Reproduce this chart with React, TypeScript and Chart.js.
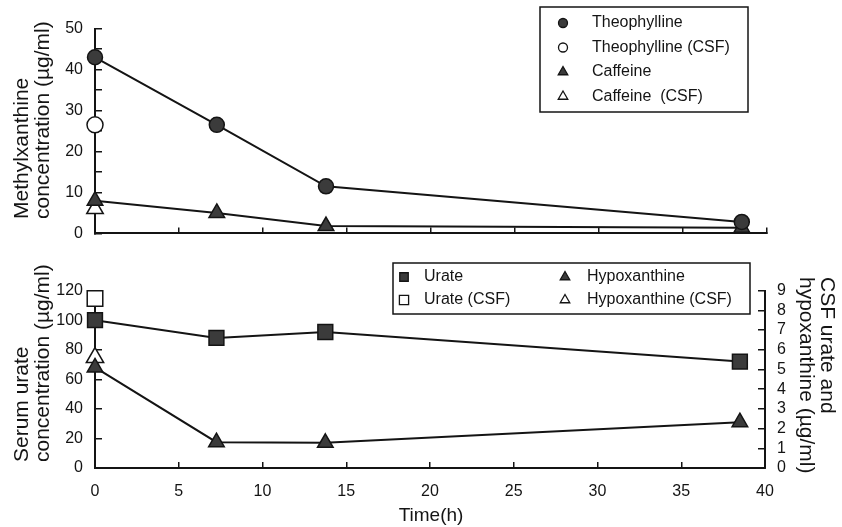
import React, { useEffect, useRef } from 'react';
import { Chart, registerables } from 'chart.js';
import { drawPoint } from 'chart.js/helpers';

Chart.register(...registerables);

const FONT = '"Liberation Sans", Arial, Helvetica, sans-serif';
const INK = '#141414';
const MARK = '#3b3b3b';
const PAPER = '#ffffff';

// sampling times after the dose (h)
const sampleHours = [0, 7.25, 13.75, 38.5];
const csfHours = [0];

// methylxanthines, serum and CSF (µg/ml)
const theophylline = [43, 26.5, 11.5, 2.8];
const caffeine = [8, 5, 1.8, 1.4];
const theophyllineCsf = [26.5];
const caffeineCsf = [6];

// serum urate / hypoxanthine (left axis) and CSF levels (right axis), µg/ml
const urate = [100, 88, 92, 72];
const hypoxanthine = [68, 17.5, 17, 31];
const urateCsf = [8.6];
const hypoxanthineCsf = [5.6];

// axis captions
const methylTitle = ['Methylxanthine', 'concentration (µg/ml)'];
const serumTitle = ['Serum urate', 'concentration (µg/ml)'];
const csfTitle = ['CSF urate and', 'hypoxanthine (µg/ml)'];
const timeTitle = ['Time(h)'];

const toPoints = (xs: number[], ys: number[]) => xs.map((x, i) => ({ x, y: ys[i] }));

type Caption = { lines: string[]; x: number; y: number; rotation: number; align: CanvasTextAlign; size: number; gap: number };

function captionsPlugin(items: Caption[]) {
  return {
    id: 'captions',
    afterDraw(chart: Chart) {
      const ctx = chart.ctx;
      for (const c of items) {
        ctx.save();
        ctx.translate(c.x, c.y);
        ctx.rotate(c.rotation);
        ctx.font = `${c.size}px ${FONT}`;
        ctx.fillStyle = INK;
        ctx.textAlign = c.align;
        ctx.textBaseline = 'middle';
        c.lines.forEach((t, i) => ctx.fillText(t, 0, i * c.gap));
        ctx.restore();
      }
    },
  };
}

type KeyItem = { dataset: number; x: number; y: number; r: number; gap: number };

function keyPlugin(box: number[], items: KeyItem[]) {
  return {
    id: 'panelKey',
    afterDraw(chart: Chart) {
      const ctx = chart.ctx;
      ctx.save();
      ctx.lineWidth = 1.5;
      ctx.strokeStyle = INK;
      ctx.strokeRect(box[0], box[1], box[2], box[3]);
      ctx.font = `16px ${FONT}`;
      ctx.textBaseline = 'middle';
      ctx.textAlign = 'left';
      for (const it of items) {
        const ds: any = chart.data.datasets[it.dataset];
        ctx.fillStyle = ds.pointBackgroundColor;
        ctx.strokeStyle = INK;
        ctx.lineWidth = 1.3;
        drawPoint(ctx, { pointStyle: ds.pointStyle, radius: it.r, rotation: 0, borderWidth: 1.3 } as any, it.x, it.y);
        ctx.fillStyle = INK;
        ctx.fillText(ds.label, it.x + it.gap, it.y);
      }
      ctx.restore();
    },
  };
}

const tickFont = { family: FONT, size: 16 };

function gridOpts(len: number) {
  return { drawOnChartArea: false, color: INK, lineWidth: 1.5, tickLength: len };
}
const borderOpts = { color: INK, width: 2 };

function series(label: string, xs: number[], ys: number[], style: string, r: number, fill: string, line: boolean, axis = 'y') {
  return {
    label,
    data: toPoints(xs, ys),
    yAxisID: axis,
    showLine: line,
    borderColor: INK,
    borderWidth: 2,
    tension: 0,
    pointStyle: style,
    pointRadius: r,
    pointBackgroundColor: fill,
    pointBorderColor: INK,
    pointBorderWidth: 1.5,
    clip: false,
  };
}

function topConfig(): any {
  return {
    type: 'line',
    data: {
      datasets: [
        series('Theophylline', sampleHours, theophylline, 'circle', 7.5, MARK, true),
        series('Theophylline (CSF)', csfHours, theophyllineCsf, 'circle', 8, PAPER, false),
        series('Caffeine', sampleHours, caffeine, 'triangle', 9, MARK, true),
        series('Caffeine  (CSF)', csfHours, caffeineCsf, 'triangle', 9.5, PAPER, false),
      ],
    },
    options: {
      responsive: false,
      animation: false,
      devicePixelRatio: 1,
      layout: { padding: { left: 0, top: 16, right: 75, bottom: 0 } },
      plugins: { legend: { display: false }, tooltip: { enabled: false } },
      scales: {
        x: {
          type: 'linear', min: 0, max: 40,
          ticks: { stepSize: 5, display: false, autoSkip: false },
          grid: gridOpts(-6),
          border: borderOpts,
          afterFit: (s: any) => { s.height = 14; },
        },
        y: {
          type: 'linear', min: 0, max: 50,
          ticks: { stepSize: 5, autoSkip: false, color: INK, font: tickFont, padding: 19, callback: (v: number) => (v % 10 === 0 ? String(v) : '') },
          grid: gridOpts(-7),
          border: borderOpts,
          afterFit: (s: any) => { s.width = 95; },
        },
      },
    },
    plugins: [
      keyPlugin([540, 7, 208, 105], [
        { dataset: 0, x: 563, y: 23, r: 4.5, gap: 29 },
        { dataset: 1, x: 563, y: 47.5, r: 4.5, gap: 29 },
        { dataset: 2, x: 563, y: 72, r: 5.5, gap: 29 },
        { dataset: 3, x: 563, y: 96.5, r: 5.5, gap: 29 },
      ]),
      captionsPlugin([
        { lines: methylTitle, x: 22, y: 219, rotation: -Math.PI / 2, align: 'left', size: 21, gap: 21 },
      ]),
    ],
  };
}

function bottomConfig(): any {
  return {
    type: 'line',
    data: {
      datasets: [
        series('Urate', sampleHours, urate, 'rect', 10.5, MARK, true),
        series('Urate (CSF)', csfHours, urateCsf, 'rect', 11, PAPER, false, 'y2'),
        series('Hypoxanthine', sampleHours, hypoxanthine, 'triangle', 9, MARK, true),
        series('Hypoxanthine (CSF)', csfHours, hypoxanthineCsf, 'triangle', 10, PAPER, false, 'y2'),
      ],
    },
    options: {
      responsive: false,
      animation: false,
      devicePixelRatio: 1,
      layout: { padding: { left: 0, top: 15, right: 0, bottom: 0 } },
      plugins: { legend: { display: false }, tooltip: { enabled: false } },
      scales: {
        x: {
          type: 'linear', min: 0, max: 40,
          ticks: { stepSize: 5, autoSkip: false, color: INK, font: tickFont, padding: 20, maxRotation: 0 },
          grid: gridOpts(-6),
          border: borderOpts,
          afterFit: (s: any) => { s.height = 59; },
        },
        y: {
          type: 'linear', position: 'left', min: 0, max: 120,
          ticks: { stepSize: 20, autoSkip: false, color: INK, font: tickFont, padding: 19 },
          grid: gridOpts(-7),
          border: borderOpts,
          afterFit: (s: any) => { s.width = 95; },
        },
        y2: {
          type: 'linear', position: 'right', min: 0, max: 9,
          ticks: { stepSize: 1, autoSkip: false, color: INK, font: tickFont, padding: 19 },
          grid: gridOpts(-7),
          border: borderOpts,
          afterFit: (s: any) => { s.width = 77; },
        },
      },
    },
    plugins: [
      keyPlugin([393, 1, 357, 51], [
        { dataset: 0, x: 404, y: 15, r: 6, gap: 20 },
        { dataset: 1, x: 404, y: 38, r: 6.5, gap: 20 },
        { dataset: 2, x: 565, y: 15, r: 5.5, gap: 22 },
        { dataset: 3, x: 565, y: 38, r: 5.5, gap: 22 },
      ]),
      captionsPlugin([
        { lines: serumTitle, x: 22, y: 200, rotation: -Math.PI / 2, align: 'left', size: 21, gap: 21 },
        { lines: csfTitle, x: 827, y: 15, rotation: Math.PI / 2, align: 'left', size: 21, gap: 21 },
        { lines: timeTitle, x: 431, y: 254, rotation: 0, align: 'center', size: 19, gap: 0 },
      ]),
    ],
  };
}

export default function App() {
  const topRef = useRef<HTMLCanvasElement>(null);
  const bottomRef = useRef<HTMLCanvasElement>(null);

  useEffect(() => {
    const upper = new Chart(topRef.current as HTMLCanvasElement, topConfig());
    const lower = new Chart(bottomRef.current as HTMLCanvasElement, bottomConfig());
    return () => {
      upper.destroy();
      lower.destroy();
    };
  }, []);

  return (
    <div style={{ position: 'relative', width: 842, height: 527, background: PAPER }}>
      <style>{'body{margin:0}'}</style>
      <canvas ref={topRef} width={842} height={262} style={{ position: 'absolute', left: 0, top: 0 }} />
      <canvas ref={bottomRef} width={842} height={265} style={{ position: 'absolute', left: 0, top: 262 }} />
    </div>
  );
}
